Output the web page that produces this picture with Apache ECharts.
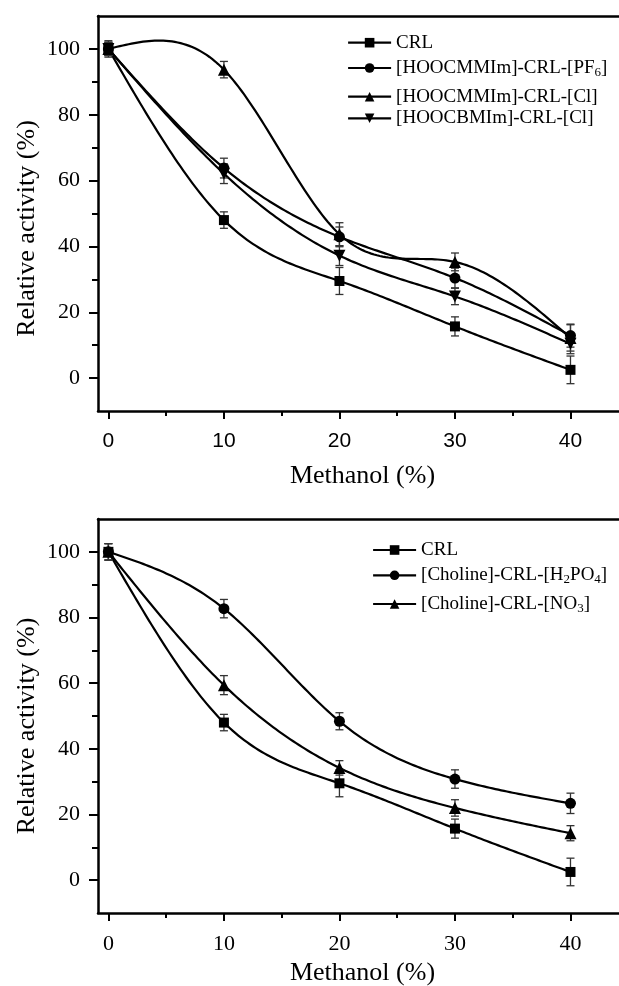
<!DOCTYPE html>
<html>
<head>
<meta charset="utf-8">
<script src="https://cdn.jsdelivr.net/npm/echarts@6/dist/echarts.min.js"></script>
<style>
  html, body { margin: 0; padding: 0; background: #fff; }
  #chart { width: 619px; height: 986px; }
</style>
</head>
<body>
<div id="chart"></div>
<script>
// Methanol concentration (%) on the x axis
const methanol = [0, 10, 20, 30, 40];

// Upper panel: relative activity (%) and standard deviations
const crl = [100, 48.0, 29.5, 15.7, 2.5];
const crlErr = [2.5, 2.5, 4.1, 2.9, 4.2];
const mmimPF6 = [100, 63.8, 42.9, 30.4, 12.9];
const mmimPF6Err = [2.0, 3.0, 3.0, 3.0, 3.5];
const mmimCl = [100, 93.7, 43.7, 35.3, 12.2];
const mmimClErr = [2.0, 2.5, 3.5, 2.7, 4.0];
const bmimCl = [100, 62.1, 37.2, 24.8, 10.4];
const bmimClErr = [2.0, 3.0, 3.0, 2.5, 3.0];

// Lower panel: choline based ionic liquids
const cholH2PO4 = [100, 82.7, 48.4, 30.8, 23.4];
const cholH2PO4Err = [2.5, 2.8, 2.6, 2.8, 3.1];
const cholNO3 = [100, 59.4, 34.2, 22.0, 14.3];
const cholNO3Err = [2.5, 2.9, 2.2, 2.5, 2.3];

// Axis ticks and labels
const xMajor = [0, 10, 20, 30, 40];
const xMinor = [5, 15, 25, 35];
const yMajor = [0, 20, 40, 60, 80, 100];
const yMinor = [10, 30, 50, 70, 90];

const SERIF = 'Liberation Serif';
const SANS = 'Liberation Sans';
const X_MIN = -0.9, X_MAX = 44.2, Y_MIN = -10, Y_MAX = 110;

// Legend labels with subscripts
const legendText = {
  'CRL': 'CRL',
  '[HOOCMMIm]-CRL-[PF6]': '[HOOCMMIm]-CRL-[PF{sub|6}]',
  '[HOOCMMIm]-CRL-[Cl]': '[HOOCMMIm]-CRL-[Cl]',
  '[HOOCBMIm]-CRL-[Cl]': '[HOOCBMIm]-CRL-[Cl]',
  '[Choline]-CRL-[H2PO4]': '[Choline]-CRL-[H{sub|2}PO{sub|4}]',
  '[Choline]-CRL-[NO3]': '[Choline]-CRL-[NO{sub|3}]'
};

// Natural cubic spline through the data points, sampled in data space
function naturalSpline(xs, ys, steps) {
  const n = xs.length;
  const h = [];
  for (let i = 0; i < n - 1; i++) h.push(xs[i + 1] - xs[i]);
  const M = new Array(n).fill(0);
  if (n > 2) {
    const a = [], b = [], c = [], d = [];
    for (let i = 1; i < n - 1; i++) {
      a.push(h[i - 1]);
      b.push(2 * (h[i - 1] + h[i]));
      c.push(h[i]);
      d.push(6 * ((ys[i + 1] - ys[i]) / h[i] - (ys[i] - ys[i - 1]) / h[i - 1]));
    }
    const m = b.length;
    for (let i = 1; i < m; i++) {
      const w = a[i] / b[i - 1];
      b[i] -= w * c[i - 1];
      d[i] -= w * d[i - 1];
    }
    const sol = new Array(m);
    sol[m - 1] = d[m - 1] / b[m - 1];
    for (let i = m - 2; i >= 0; i--) sol[i] = (d[i] - c[i] * sol[i + 1]) / b[i];
    for (let i = 0; i < m; i++) M[i + 1] = sol[i];
  }
  const pts = [];
  for (let i = 0; i < n - 1; i++) {
    const x0 = xs[i], x1 = xs[i + 1], hh = h[i];
    for (let k = (i === 0 ? 0 : 1); k <= steps; k++) {
      const x = x0 + hh * k / steps;
      const A = x1 - x, B = x - x0;
      const y = M[i] * A * A * A / (6 * hh) + M[i + 1] * B * B * B / (6 * hh)
        + (ys[i] / hh - M[i] * hh / 6) * A + (ys[i + 1] / hh - M[i + 1] * hh / 6) * B;
      pts.push([x, y]);
    }
  }
  return pts;
}

function seriesFor(axisIdx, name, values, errors, symbol, size, rotate) {
  const pairs = methanol.map((x, i) => [x, values[i]]);
  const curve = {
    type: 'custom', xAxisIndex: axisIdx.x, yAxisIndex: axisIdx.y,
    silent: true, z: 2, animation: false,
    data: pairs,
    encode: { x: 0, y: 1 },
    renderItem: function (params, api) {
      if (params.dataIndex !== 0) return null;
      const pts = naturalSpline(methanol, values, 40).map(p => api.coord(p));
      return {
        type: 'polyline',
        shape: { points: pts },
        style: { stroke: '#000', lineWidth: 2.2, fill: 'none' }
      };
    }
  };
  const bars = {
    type: 'custom', xAxisIndex: axisIdx.x, yAxisIndex: axisIdx.y,
    silent: true, z: 3, animation: false,
    data: methanol.map((x, i) => [x, values[i], errors[i]]),
    encode: { x: 0, y: 1 },
    renderItem: function (params, api) {
      const x = api.value(0), y = api.value(1), e = api.value(2);
      const hi = api.coord([x, y + e]);
      const lo = api.coord([x, y - e]);
      const w = 4;
      const st = { stroke: '#333', lineWidth: 1.3 };
      return {
        type: 'group',
        children: [
          { type: 'line', shape: { x1: hi[0], y1: hi[1], x2: lo[0], y2: lo[1] }, style: st },
          { type: 'line', shape: { x1: hi[0] - w, y1: hi[1], x2: hi[0] + w, y2: hi[1] }, style: st },
          { type: 'line', shape: { x1: lo[0] - w, y1: lo[1], x2: lo[0] + w, y2: lo[1] }, style: st }
        ]
      };
    }
  };
  const marks = {
    type: 'line', name: name, xAxisIndex: axisIdx.x, yAxisIndex: axisIdx.y,
    data: pairs, z: 5, animation: false,
    symbol: symbol, symbolSize: size, symbolRotate: rotate || 0, showSymbol: true,
    itemStyle: { color: '#000' },
    lineStyle: { width: 0, color: '#000' }
  };
  return [curve, bars, marks];
}

function axesFor(gi, xLabelFont, nameGapX) {
  const line = { color: '#000', width: 2.5 };
  const tickStyle = { color: '#000', width: 2 };
  return [
    {
      gridIndex: gi, type: 'value', min: X_MIN, max: X_MAX, position: 'bottom',
      axisLine: { onZero: false, lineStyle: line },
      axisTick: { customValues: xMajor, length: 8, lineStyle: tickStyle },
      axisLabel: { customValues: xMajor, margin: 20, fontFamily: xLabelFont, fontSize: xLabelFont === SANS ? 21 : 22, color: '#000' },
      splitLine: { show: false },
      name: 'Methanol (%)', nameLocation: 'middle', nameGap: nameGapX, nameMoveOverlap: false,
      nameTextStyle: { fontFamily: SERIF, fontSize: 26, color: '#000', padding: [0, 0, 0, 8] }
    },
    {
      gridIndex: gi, type: 'value', min: X_MIN, max: X_MAX, position: 'bottom',
      axisLine: { show: false, onZero: false },
      axisTick: { customValues: xMinor, length: 5, lineStyle: tickStyle },
      axisLabel: { show: false },
      splitLine: { show: false }
    },
    {
      gridIndex: gi, type: 'value', min: X_MIN, max: X_MAX, position: 'top',
      axisLine: { onZero: false, lineStyle: line },
      axisTick: { show: false }, axisLabel: { show: false }, splitLine: { show: false }
    }
  ];
}

function yAxesFor(gi, padShift) {
  const line = { color: '#000', width: 2.5 };
  const tickStyle = { color: '#000', width: 2 };
  return [
    {
      gridIndex: gi, type: 'value', min: Y_MIN, max: Y_MAX, position: 'left',
      axisLine: { onZero: false, lineStyle: line },
      axisTick: { customValues: yMajor, length: 9, lineStyle: tickStyle },
      axisLabel: { customValues: yMajor, margin: 18, fontFamily: SERIF, fontSize: 22, color: '#000' },
      splitLine: { show: false },
      name: 'Relative activity (%)', nameLocation: 'middle', nameGap: 58, nameMoveOverlap: false,
      nameTextStyle: { fontFamily: SERIF, fontSize: 26, color: '#000', padding: [0, padShift, 0, 0] }
    },
    {
      gridIndex: gi, type: 'value', min: Y_MIN, max: Y_MAX, position: 'left',
      axisLine: { show: false, onZero: false },
      axisTick: { customValues: yMinor, length: 6, lineStyle: tickStyle },
      axisLabel: { show: false },
      splitLine: { show: false }
    }
  ];
}

function legendsFor(names, centres, left) {
  return names.map((n, i) => {
    const hasSub = legendText[n].indexOf('{sub|') >= 0;
    return {
      show: true, orient: 'horizontal', left: left, top: centres[i] - (hasSub ? 15 : 11),
      padding: 0, data: [n], itemWidth: 43, itemHeight: 12, selectedMode: false,
      lineStyle: { width: 2.2, color: '#000' },
      formatter: name => legendText[name],
      textStyle: {
        fontFamily: SERIF, fontSize: 19, lineHeight: 22, color: '#000',
        rich: { sub: { fontFamily: SERIF, fontSize: 13, lineHeight: 14, padding: [16, 0, 0, 0], verticalAlign: 'bottom', color: '#000' } }
      }
    };
  });
}

const namesA = ['CRL', '[HOOCMMIm]-CRL-[PF6]', '[HOOCMMIm]-CRL-[Cl]', '[HOOCBMIm]-CRL-[Cl]'];
const namesB = ['CRL', '[Choline]-CRL-[H2PO4]', '[Choline]-CRL-[NO3]'];

const A = { x: 0, y: 0 };
const B = { x: 3, y: 2 };

const series = [].concat(
  seriesFor(A, namesA[0], crl, crlErr, 'rect', 10),
  seriesFor(A, namesA[1], mmimPF6, mmimPF6Err, 'circle', 11),
  seriesFor(A, namesA[2], mmimCl, mmimClErr, 'triangle', 12),
  seriesFor(A, namesA[3], bmimCl, bmimClErr, 'triangle', 12, 180),
  seriesFor(B, namesB[0], crl, crlErr, 'rect', 10),
  seriesFor(B, namesB[1], cholH2PO4, cholH2PO4Err, 'circle', 11),
  seriesFor(B, namesB[2], cholNO3, cholNO3Err, 'triangle', 12)
);

const chart = echarts.init(document.getElementById('chart'), null, { renderer: 'canvas' });
chart.setOption({
  backgroundColor: '#fff',
  animation: false,
  grid: [
    { left: 98, right: 0, top: 16, height: 395, containLabel: false, outerBoundsMode: 'none' },
    { left: 98, right: 0, top: 519, height: 394, containLabel: false, outerBoundsMode: 'none' }
  ],
  xAxis: [].concat(axesFor(0, SANS, 52), axesFor(1, SERIF, 47)),
  yAxis: [].concat(yAxesFor(0, 30), yAxesFor(1, 20)),
  legend: [].concat(
    legendsFor(namesA, [42.7, 65, 96.7, 118.3], 347),
    legendsFor(namesB, [550, 572.3, 601], 372)
  ),
  series: series
});
</script>
</body>
</html>
